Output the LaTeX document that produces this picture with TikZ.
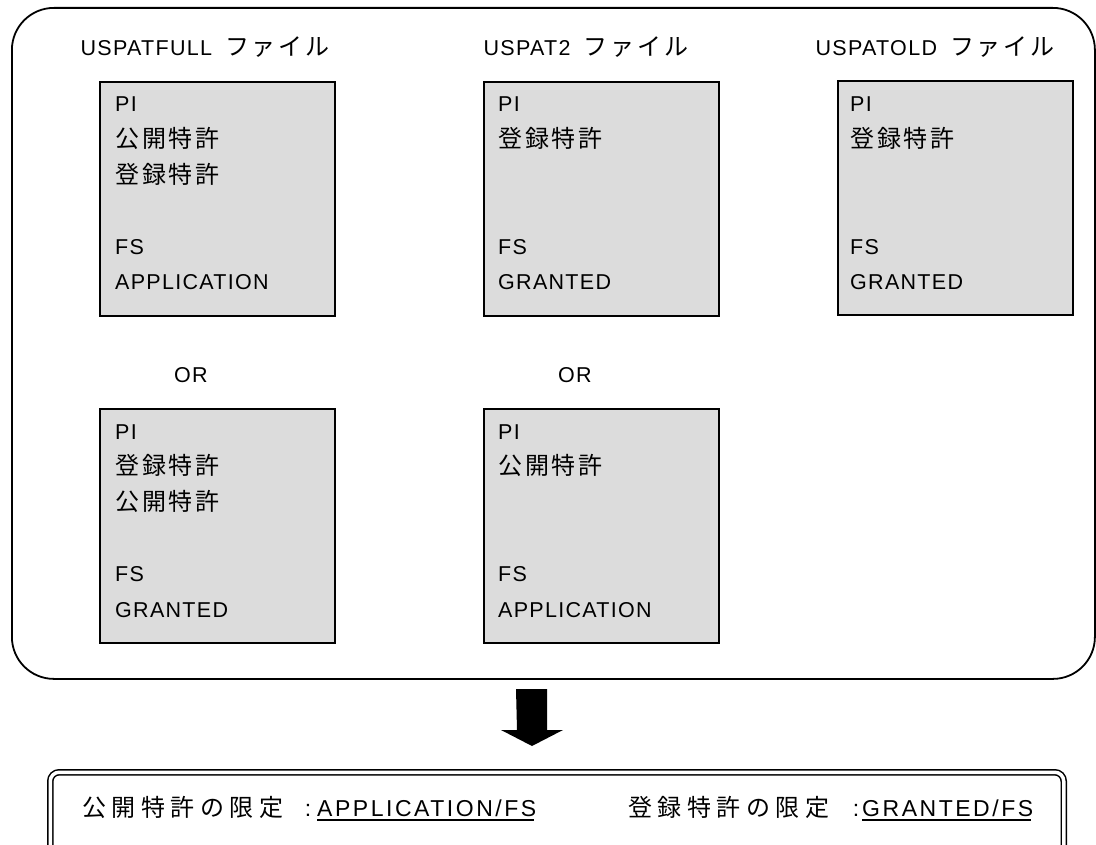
\documentclass[tikz,border=0pt]{standalone}
\usepackage{fontspec}
\setmainfont{Liberation Sans}[LetterSpace=6]
\newfontfamily\jpfam{Noto Sans CJK JP}[LetterSpace=12]
\newfontfamily\jpwide{Noto Sans CJK JP}[LetterSpace=23]
\newfontfamily\latwide{Liberation Sans}[LetterSpace=11]
\newcommand\jp{\jpfam\fontsize{24}{28}\selectfont}
\definecolor{panelgray}{RGB}{220,220,220}

\begin{document}
\begin{tikzpicture}[x=1pt,y=-1pt,
  frame/.style={draw=black, line width=1.8pt, rounded corners=42pt,
    anchor=north west, inner sep=0pt},
  panel/.style={draw=black, line width=1.8pt, fill=panelgray,
    minimum width=235pt, minimum height=234pt, anchor=north west, inner sep=0pt},
  rowtxt/.style={anchor=base west, inner sep=0pt, font=\fontsize{21.5}{25}\selectfont},
  summary/.style={draw=black, double=white, line width=1.5pt, double distance=3.5pt,
    rounded corners=9pt, anchor=north west, inner sep=0pt},
  sumjp/.style={anchor=base west, inner sep=0pt, font=\fontsize{24}{28}\selectfont\jpwide},
  sumcolon/.style={anchor=base, inner sep=0pt, font=\fontsize{23}{26}\selectfont},
  sumval/.style={anchor=base west, inner sep=0pt, font=\fontsize{23}{26}\selectfont\latwide},
]
\useasboundingbox (0,0) rectangle (1096,845);
\clip (0,0) rectangle (1096,845);

% outer frame holding the three files
\node[frame, minimum width=1083pt, minimum height=671pt] (frame) at (11,7) {};

% file titles
\node[rowtxt] (t1) at (80.5,55.5) {USPATFULL\hspace{13pt}{\jp ファイル}};
\node[rowtxt] (t2) at (483.5,55.5) {USPAT2\hspace{13pt}{\jp ファイル}};
\node[rowtxt] (t3) at (815.5,55.5) {USPATOLD\hspace{13pt}{\jp ファイル}};

% search panels
\node[panel] (b1) at (99,81) {};
\node[panel] (b2) at (483,81) {};
\node[panel] (b3) at (837,80) {};
\node[panel] (b4) at (99,408) {};
\node[panel] (b5) at (483,408) {};

\path (b1.north west) ++(16,31) node[rowtxt] (b1a) {PI}
  ++(0,35.6) node[rowtxt] (b1b) {\jp 公開特許}
  ++(0,35.6) node[rowtxt] (b1c) {\jp 登録特許}
  ++(0,71.2) node[rowtxt] (b1d) {FS}
  ++(0,35.6) node[rowtxt] (b1e) {APPLICATION};

\path (b2.north west) ++(15,31) node[rowtxt] (b2a) {PI}
  ++(0,35.6) node[rowtxt] (b2b) {\jp 登録特許}
  ++(0,106.8) node[rowtxt] (b2d) {FS}
  ++(0,35.6) node[rowtxt] (b2e) {GRANTED};

\path (b3.north west) ++(13,32) node[rowtxt] (b3a) {PI}
  ++(0,35.6) node[rowtxt] (b3b) {\jp 登録特許}
  ++(0,106.8) node[rowtxt] (b3d) {FS}
  ++(0,35.6) node[rowtxt] (b3e) {GRANTED};

\path (b4.north west) ++(16,31) node[rowtxt] (b4a) {PI}
  ++(0,35.6) node[rowtxt] (b4b) {\jp 登録特許}
  ++(0,35.6) node[rowtxt] (b4c) {\jp 公開特許}
  ++(0,71.2) node[rowtxt] (b4d) {FS}
  ++(0,35.6) node[rowtxt] (b4e) {GRANTED};

\path (b5.north west) ++(15,31) node[rowtxt] (b5a) {PI}
  ++(0,35.6) node[rowtxt] (b5b) {\jp 公開特許}
  ++(0,106.8) node[rowtxt] (b5d) {FS}
  ++(0,35.6) node[rowtxt] (b5e) {APPLICATION};

% alternatives
\node[rowtxt] (or1) at (174,382.5) {OR};
\node[rowtxt] (or2) at (558,382.5) {OR};

% block arrow towards the summary
\coordinate (arrowtop) at (531.5,689);
\fill[black] (arrowtop) ++(-15.5,0) -- ++(31,0) -- ++(0,41) -- ++(16,0)
  -- ++(-31,16) -- ++(-31,-16) -- ++(16,0) -- cycle;

% summary box with double border
\node[summary, minimum width=1013.5pt, minimum height=110pt] (res) at (49.5,771.5) {};

\node[sumjp] (lab1) at (82,816) {公開特許の限定};
\node[sumcolon] (col1) at (308,816) {:};
\node[sumval] (val1) at (317,816) {APPLICATION/FS};
\draw[line width=2pt] ([yshift=-3.5pt]val1.base west) -- ([yshift=-3.5pt,xshift=-2pt]val1.base east);

\node[sumjp] (lab2) at (628,816) {登録特許の限定};
\node[sumcolon] (col2) at (856,816) {:};
\node[sumval] (val2) at (862,816) {GRANTED/FS};
\draw[line width=2pt] ([yshift=-3.5pt]val2.base west) -- ([yshift=-3.5pt,xshift=-2pt]val2.base east);
\end{tikzpicture}
\end{document}
